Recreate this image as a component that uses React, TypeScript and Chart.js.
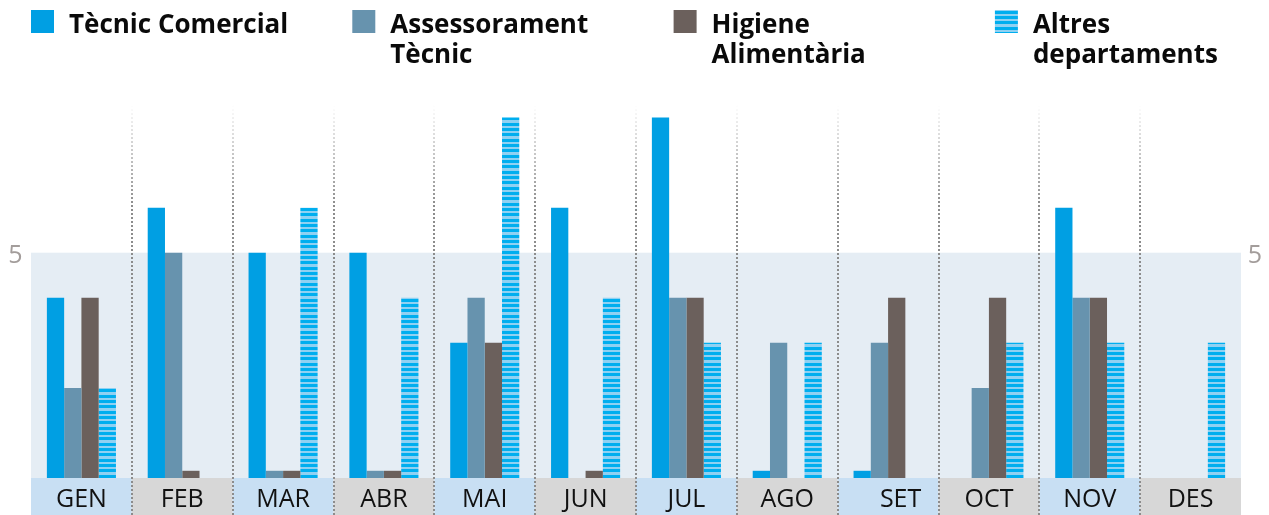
import { useEffect, useRef } from "react";
import { Chart, registerables } from "chart.js";

Chart.register(...registerables);

// ---- data ----
const months = ["GEN", "FEB", "MAR", "ABR", "MAI", "JUN", "JUL", "AGO", "\u2003SET", "OCT", "NOV", "DES"];
const tecnicComercial = [4, 6, 5, 5, 3, 6, 8, 0.16, 0.16, 0, 6, 0];
const assessorament = [2, 5, 0.16, 0.16, 4, 0, 4, 3, 3, 2, 4, 0];
const higiene = [4, 0.16, 0.16, 0.16, 3, 0.16, 4, 0, 4, 4, 4, 0];
const altres = [2, 0, 6, 4, 8, 4, 3, 3, 0, 3, 3, 3];
const legendLabels = [
  ["Tècnic Comercial"],
  ["Assessorament", "Tècnic"],
  ["Higiene", "Alimentària"],
  ["Altres", "departaments"],
];
const yMarkValue = 5;
const yMarkLabel = "5";

// ---- styles ----
const C_TC = "#009fe3";
const C_AT = "#6793ae";
const C_HA = "#6b605c";
const STRIPE_DARK = "#00aeef";
const STRIPE_LIGHT = "#8fd1f2";

function makeStripePattern(): CanvasPattern | string {
  const c = document.createElement("canvas");
  c.width = 4;
  c.height = 16;
  const g = c.getContext("2d");
  if (!g) return STRIPE_DARK;
  g.fillStyle = STRIPE_LIGHT;
  g.fillRect(0, 0, 4, 16);
  g.fillStyle = STRIPE_DARK;
  g.fillRect(0, 0, 4, 3);
  g.fillRect(0, 5, 4, 3);
  g.fillRect(0, 11, 4, 3);
  const p = g.createPattern(c, "repeat");
  return p || STRIPE_DARK;
}

export default function App() {
  const ref = useRef<HTMLCanvasElement | null>(null);

  useEffect(() => {
    document.body.style.margin = "0";
    const canvas = ref.current;
    if (!canvas) return;
    const stripes = makeStripePattern();
    const swatches: any[] = [C_TC, C_AT, C_HA, stripes];

    const decor = {
      id: "decor",
      beforeDatasetsDraw(chart: any) {
        const { ctx, chartArea, scales } = chart;
        const { left, right, top, bottom } = chartArea;
        const x = scales.x;
        const y = scales.y;
        const H = chart.height;
        const W = chart.width;
        const n = months.length;
        const half = (right - left) / n / 2;
        ctx.save();
        // shaded band 0..5
        const y5 = y.getPixelForValue(yMarkValue);
        const y0 = y.getPixelForValue(0);
        ctx.fillStyle = "#e5edf4";
        ctx.fillRect(left, y5, right - left, y0 - y5);
        // label band
        ctx.font = '25px "Open Sans"';
        ctx.textAlign = "center";
        ctx.textBaseline = "alphabetic";
        months.forEach((m, i) => {
          const c = x.getPixelForValue(i);
          ctx.fillStyle = i % 2 === 0 ? "#c8dff3" : "#d7d7d7";
          ctx.fillRect(c - half, bottom, half * 2, H - bottom);
          ctx.fillStyle = "#111";
          ctx.fillText(m, c, bottom + 29);
        });
        // dotted separators
        const grad = ctx.createLinearGradient(0, top + 10, 0, top + 110);
        grad.addColorStop(0, "rgba(140,140,140,0)");
        grad.addColorStop(1, "rgba(140,140,140,1)");
        ctx.strokeStyle = grad;
        ctx.lineWidth = 2;
        ctx.setLineDash([2, 2]);
        for (let k = 1; k < n; k++) {
          const xb = Math.round((x.getPixelForValue(k - 1) + x.getPixelForValue(k)) / 2);
          ctx.beginPath();
          ctx.moveTo(xb, top + 10);
          ctx.lineTo(xb, H);
          ctx.stroke();
        }
        ctx.setLineDash([]);
        // y mark labels both sides
        ctx.fillStyle = "#a39d9b";
        ctx.font = '25px "Open Sans"';
        ctx.textAlign = "center";
        ctx.fillText(yMarkLabel, left / 2, y5 + 10);
        ctx.fillText(yMarkLabel, (right + W) / 2, y5 + 10);
        ctx.restore();
      },
      afterDraw(chart: any) {
        const { ctx } = chart;
        ctx.save();
        ctx.font = 'bold 26px "Open Sans"';
        ctx.textAlign = "left";
        ctx.textBaseline = "alphabetic";
        legendLabels.forEach((lines, i) => {
          const x0 = 31 + i * 321.3;
          ctx.fillStyle = swatches[i];
          ctx.fillRect(x0, 10, 23, 23);
          ctx.fillStyle = "#0a0a0a";
          lines.forEach((t, j) => ctx.fillText(t, x0 + 38, 33 + j * 30));
        });
        ctx.restore();
      },
    };

    const common = { borderWidth: 0, categoryPercentage: 0.685, barPercentage: 1 };
    const chart = new Chart(canvas, {
      type: "bar",
      data: {
        labels: months,
        datasets: [
          { label: legendLabels[0].join(" "), data: tecnicComercial, backgroundColor: C_TC, ...common },
          { label: legendLabels[1].join(" "), data: assessorament, backgroundColor: C_AT, ...common },
          { label: legendLabels[2].join(" "), data: higiene, backgroundColor: C_HA, ...common },
          { label: legendLabels[3].join(" "), data: altres, backgroundColor: stripes as any, ...common },
        ],
      },
      options: {
        animation: false,
        responsive: false,
        devicePixelRatio: 1,
        layout: { padding: { left: 31, right: 28, top: 95, bottom: 37 } },
        scales: {
          x: { display: false },
          y: { display: false, min: 0, max: 8.5 },
        },
        plugins: { legend: { display: false }, tooltip: { enabled: false } },
      },
      plugins: [decor],
    });

    let alive = true;
    if ((document as any).fonts) {
      Promise.all([
        (document as any).fonts.load('bold 26px "Open Sans"'),
        (document as any).fonts.load('25px "Open Sans"'),
      ])
        .then(() => {
          if (alive) chart.update();
        })
        .catch(() => {});
    }
    return () => {
      alive = false;
      chart.destroy();
    };
  }, []);

  return (
    <div style={{ width: 1269, height: 515 }}>
      <canvas ref={ref} width={1269} height={515} style={{ display: "block" }} />
    </div>
  );
}
